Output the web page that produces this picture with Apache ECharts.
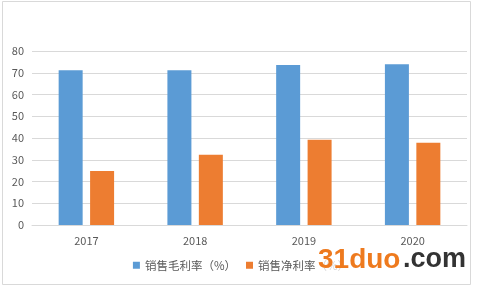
<!DOCTYPE html>
<html><head><meta charset="utf-8">
<script src="https://cdn.jsdelivr.net/npm/echarts@6/dist/echarts.min.js"></script>
<style>html,body{margin:0;padding:0;background:#fff}#c{width:482px;height:286px}</style>
</head><body><div id="c"></div>
<script>
const categories = ['2017', '2018', '2019', '2020'];
const grossMargin = [71.2, 71.2, 73.6, 73.9];
const netMargin = [24.8, 32.3, 39.2, 37.8];
const seriesNames = ['销售毛利率（%）', '销售净利率（%）'];
const yTicks = { min: 0, max: 80, interval: 10 };

const chart = echarts.init(document.getElementById('c'), null, { renderer: 'canvas' });
const font = '"Microsoft YaHei","Noto Sans CJK SC","Liberation Sans",sans-serif';
chart.setOption({
  animation: false,
  backgroundColor: '#fff',
  grid: { left: 32, right: 15, top: 51, bottom: 61 },
  legend: {
    bottom: 10, left: 'center', itemWidth: 7, itemHeight: 7, itemGap: 10,
    icon: 'rect',
    textStyle: { color: '#595959', fontSize: 11.5, fontFamily: font },
    data: seriesNames
  },
  xAxis: {
    type: 'category', data: categories,
    axisLine: { lineStyle: { color: '#d9d9d9' } },
    axisTick: { show: false },
    axisLabel: { color: '#595959', fontSize: 11, margin: 10, fontFamily: font }
  },
  yAxis: {
    type: 'value', min: yTicks.min, max: yTicks.max, interval: yTicks.interval,
    axisLine: { show: false }, axisTick: { show: false },
    splitLine: { lineStyle: { color: '#d9d9d9' } },
    axisLabel: { color: '#595959', fontSize: 11, margin: 8, fontFamily: font }
  },
  series: [
    { name: seriesNames[0], type: 'bar', data: grossMargin, barWidth: 24, barGap: '31%', itemStyle: { color: '#5b9bd5' } },
    { name: seriesNames[1], type: 'bar', data: netMargin, barWidth: 24, itemStyle: { color: '#ed7d31' } }
  ],
  graphic: [
    { type: 'rect', shape: { x: 2.5, y: 1.5, width: 468, height: 283 }, style: { fill: 'none', stroke: '#d9d9d9', lineWidth: 1 }, z: 0 },
    { type: 'rect', shape: { x: 316, y: 256, width: 88, height: 20 }, style: { fill: 'rgba(255,255,255,0.75)' }, z: 99 },
    { type: 'text', left: 318, top: 246, z: 100, style: { text: '31duo', fill: '#ee7a1e', font: 'bold 28px "Liberation Sans", Arial, sans-serif' } },
    { type: 'text', left: 403, top: 246, z: 100, style: { text: '.com', fill: '#333333', font: 'bold 27px "Liberation Sans", Arial, sans-serif' } }
  ]
});
</script></body></html>
